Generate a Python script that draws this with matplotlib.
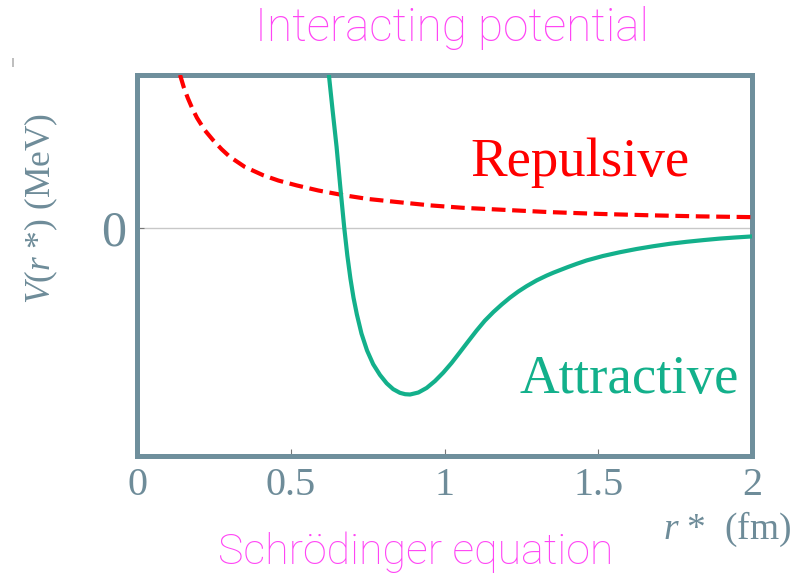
import numpy as np
import matplotlib
matplotlib.use('Agg')
import matplotlib.pyplot as plt

# values (arbitrary MeV units, 0 = zero line)
green_r = [0.624, 0.636, 0.649, 0.661, 0.674, 0.684, 0.694, 0.704, 0.715, 0.730, 0.748,
           0.768, 0.790, 0.812, 0.833, 0.855, 0.872, 0.888, 0.915, 0.942, 0.969, 0.996,
           1.023, 1.050, 1.077, 1.104, 1.131, 1.159, 1.186, 1.213, 1.240, 1.267, 1.300,
           1.332, 1.354, 1.400, 1.430, 1.462, 1.515, 1.571, 1.625, 1.679, 1.733, 1.788,
           1.842, 1.896, 1.945, 2.0]
green_v = [1.0, 0.77, 0.53, 0.27, 0.0, -0.18, -0.33, -0.455, -0.565, -0.69, -0.80,
           -0.89, -0.96, -1.015, -1.053, -1.077, -1.086, -1.088, -1.075, -1.045, -1.0, -0.945,
           -0.882, -0.812, -0.741, -0.671, -0.606, -0.549, -0.500, -0.455, -0.415, -0.380, -0.342,
           -0.311, -0.292, -0.256, -0.234, -0.212, -0.183, -0.158, -0.137, -0.119, -0.103, -0.090,
           -0.079, -0.069, -0.062, -0.055]

red_r = [0.14, 0.152, 0.165, 0.18, 0.195, 0.22, 0.247, 0.275, 0.302, 0.35, 0.41,
         0.46, 0.52, 0.59, 0.667, 0.75, 0.845, 0.953, 1.06, 1.18, 1.34, 1.506, 1.67, 1.83, 2.0]
red_v = [1.0, 0.92, 0.85, 0.78, 0.72, 0.64, 0.575, 0.515, 0.465, 0.40, 0.345,
         0.31, 0.278, 0.245, 0.216, 0.19, 0.17, 0.148, 0.132, 0.12, 0.104, 0.092, 0.083, 0.076, 0.071]

x_ticks = [0, 0.5, 1, 1.5, 2]
x_tick_labels = ['0', '0.5', '1', '1.5', '2']

frame_color = '#6f8f9c'
text_color = '#6e8c99'
green = '#13b08b'
red = '#ff0000'
magenta = '#ff45f5'

plt.rcParams['font.family'] = ['Liberation Serif', 'DejaVu Serif']
plt.rcParams['mathtext.fontset'] = 'custom'
plt.rcParams['mathtext.rm'] = 'Liberation Serif'
plt.rcParams['mathtext.it'] = 'Liberation Serif:italic'

fig = plt.figure(figsize=(7.92, 5.79), dpi=100)
ax = fig.add_axes([0.173, 0.2124, 0.7765, 0.6581])

ax.axhline(0, color='#c8c8c8', lw=1.0, zorder=1)
ax.plot(red_r, red_v, color=red, lw=3.0, linestyle=(0, (3.3, 1.6)), zorder=3)
ax.plot(green_r, green_v, color=green, lw=3.0, zorder=3,
        solid_joinstyle='round', solid_capstyle='round')

ax.set_xlim(0, 2)
ax.set_ylim(-1.49, 1.0)

ax.set_xticks(x_ticks)
ax.set_xticklabels(x_tick_labels)
ax.set_yticks([0])
ax.set_yticklabels(['0'])
ax.tick_params(axis='x', direction='in', length=5, width=0.8, color='#777777',
               labelsize=29, labelcolor=text_color, pad=8)
ax.tick_params(axis='y', direction='in', length=5, width=0.8, color='#777777',
               labelsize=36, labelcolor=text_color, pad=8)

for s in ax.spines.values():
    s.set_color(frame_color)
    s.set_linewidth(3.6)

ax.text(1.44, 0.425, 'Repulsive', color=red, fontsize=39.5, ha='center', va='center')
ax.text(1.60, -0.99, 'Attractive', color=green, fontsize=39.5, ha='center', va='center')

fig.text(0.052, 0.64, '$V$($r$ *) (MeV)', rotation=90, color=text_color,
         fontsize=25.5, ha='center', va='center')
fig.text(0.999, 0.085, '$r$ *  (fm)', color=text_color, fontsize=27, ha='right', va='center')

fig.text(0.57, 0.952, 'Interacting potential', color=magenta, fontsize=33,
         family=['Roboto', 'DejaVu Sans'], fontweight='light', ha='center', va='center')
fig.text(0.525, 0.047, 'Schrödinger equation', color=magenta, fontsize=31,
         family=['Roboto', 'DejaVu Sans'], fontweight='light', ha='center', va='center')

fig.text(0.016, 0.892, "|", color='black', fontsize=7, ha='center', va='center')

fig.savefig('out.png', dpi=100)
